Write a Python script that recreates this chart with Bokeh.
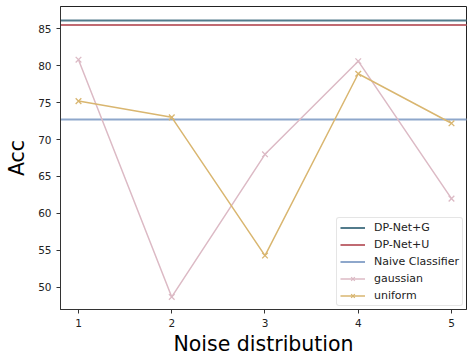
from bokeh.plotting import figure
from bokeh.models import Range1d, FixedTicker, Legend, LegendItem
from bokeh.embed import file_html
from bokeh.resources import INLINE

noise = [1, 2, 3, 4, 5]
gaussian = [80.8, 48.7, 68.0, 80.6, 62.0]
uniform = [75.2, 73.0, 54.3, 78.9, 72.2]
dpnet_g = 86.1
dpnet_u = 85.5
naive = 72.7
x_ticks = [1, 2, 3, 4, 5]
y_ticks = [50, 55, 60, 65, 70, 75, 80, 85]

FONT = "DejaVu Sans"
C_G = "#527b8b"
C_U = "#c06a72"
C_N = "#8ea7cb"
C_GAUSS = "#dcbac5"
C_UNIF = "#d9b670"

p = figure(width=467, height=358, output_backend="svg", toolbar_location=None,
           x_range=Range1d(0.807, 5.161), y_range=Range1d(47.0, 88.0),
           min_border_left=60, min_border_right=1, min_border_top=6, min_border_bottom=47)
p.xgrid.visible = False
p.ygrid.visible = False
p.outline_line_color = "#222222"
p.outline_line_width = 1
p.background_fill_color = "white"
p.border_fill_color = "white"

for ax in (p.xaxis[0], p.yaxis[0]):
    ax.axis_line_color = "#333333"
    ax.axis_line_width = 1
    ax.major_tick_line_color = "#333333"
    ax.minor_tick_line_color = None
    ax.major_tick_out = 4
    ax.major_tick_in = 0
    ax.major_label_standoff = 5
    ax.major_label_text_font = FONT
    ax.major_label_text_font_size = "10.5px"
    ax.major_label_text_color = "#222222"
    ax.axis_label_text_font = FONT
    ax.axis_label_text_font_size = "20.5px"
    ax.axis_label_text_font_style = "normal"
    ax.axis_label_text_color = "black"

p.xaxis.ticker = FixedTicker(ticks=x_ticks)
p.yaxis.ticker = FixedTicker(ticks=y_ticks)
p.xaxis.axis_label = "Noise distribution"
p.yaxis.axis_label = "Acc"
p.xaxis.axis_label_standoff = 2
p.yaxis.axis_label_standoff = 6

rg = p.line([0, 10], [dpnet_g, dpnet_g], line_color=C_G, line_width=2)
ru = p.line([0, 10], [dpnet_u, dpnet_u], line_color=C_U, line_width=2)
rn = p.line([0, 10], [naive, naive], line_color=C_N, line_width=2)

lg = p.line(noise, gaussian, line_color=C_GAUSS, line_width=1.5)
sg = p.scatter(noise, gaussian, marker="x", size=8, line_color=C_GAUSS, line_width=1.3)
lu = p.line(noise, uniform, line_color=C_UNIF, line_width=1.5)
su = p.scatter(noise, uniform, marker="x", size=8, line_color=C_UNIF, line_width=1.3)

legend = Legend(items=[
    LegendItem(label="DP-Net+G", renderers=[rg]),
    LegendItem(label="DP-Net+U", renderers=[ru]),
    LegendItem(label="Naive Classifier", renderers=[rn]),
    LegendItem(label="gaussian", renderers=[lg, sg]),
    LegendItem(label="uniform", renderers=[lu, su]),
], location="bottom_right")
legend.label_text_font = FONT
legend.label_text_font_size = "11px"
legend.label_text_color = "#222222"
legend.label_height = 13
legend.glyph_height = 13
legend.glyph_width = 25
legend.label_standoff = 9
legend.spacing = 4
legend.padding = 3
legend.margin = 3
legend.border_line_color = "#cccccc"
legend.border_radius = 3
legend.background_fill_alpha = 0.85
p.add_layout(legend)

open("out.html", "w").write(file_html(p, INLINE))
